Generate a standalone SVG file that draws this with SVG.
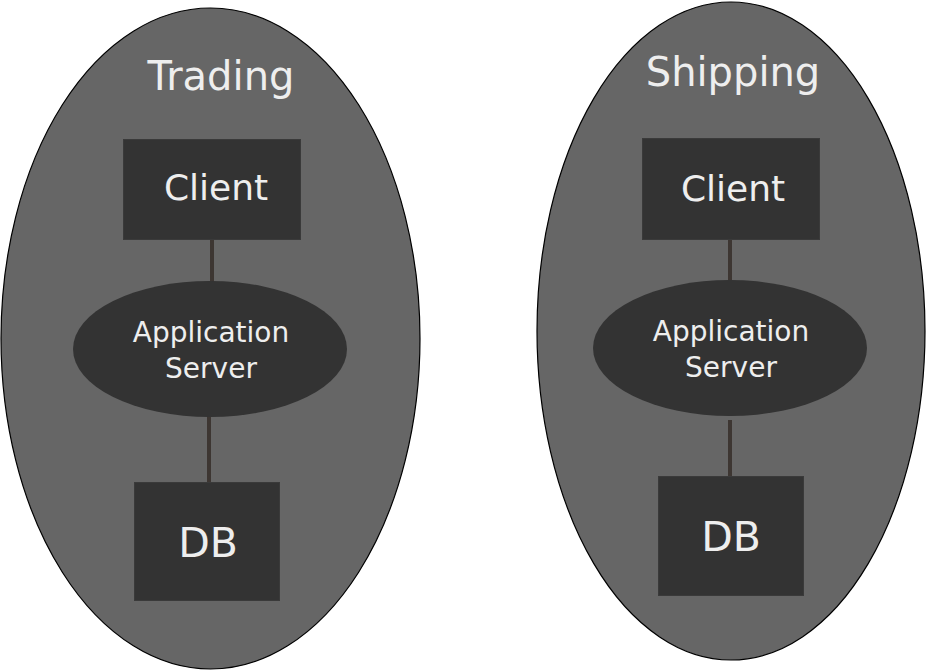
<svg xmlns="http://www.w3.org/2000/svg" width="926" height="672" viewBox="0 0 926 672">
<style>
.zone{fill:#666666;stroke:#000000;stroke-width:1.2}
.box{fill:#333333;stroke:#3a3a3a;stroke-width:1}
.srv{fill:#333333}
.conn{stroke:#3d3632;stroke-width:4;fill:none}
text{font-family:"DejaVu Sans","Liberation Sans",sans-serif;fill:#eeeeee;text-anchor:middle}
.t1{font-size:40px}
.t2{font-size:36px}
.t3{font-size:28px}
.t4{font-size:41px}
</style>
<rect width="926" height="672" fill="#ffffff"/>
<g id="trading">
<ellipse class="zone" cx="210.5" cy="338.5" rx="209.5" ry="330.5"/>
<text class="t1" x="221" y="90">Trading</text>
</g>
<g id="shipping">
<ellipse class="zone" cx="731" cy="331" rx="194" ry="329"/>
<text class="t1" x="733" y="86">Shipping</text>
</g>
<g id="connectors">
<line class="conn" x1="212" y1="240" x2="212" y2="283"/>
<line class="conn" x1="209" y1="416" x2="209" y2="482"/>
<line class="conn" x1="730" y1="240" x2="730" y2="282"/>
<line class="conn" x1="730" y1="420" x2="730" y2="490"/>
</g>
<g id="trading-client">
<rect class="box" x="123.5" y="139.5" width="177" height="100"/>
<text class="t2" x="216" y="200">Client</text>
</g>
<g id="trading-appserver">
<ellipse class="srv" cx="210" cy="349" rx="137" ry="68"/>
<text class="t3" x="211" y="342">Application</text>
<text class="t3" x="211" y="378">Server</text>
</g>
<g id="trading-db">
<rect class="box" x="134.5" y="482.5" width="145" height="118"/>
<text class="t4" x="208" y="557">DB</text>
</g>
<g id="shipping-client">
<rect class="box" x="642.5" y="138.5" width="177" height="101"/>
<text class="t2" x="733" y="201">Client</text>
</g>
<g id="shipping-appserver">
<ellipse class="srv" cx="730" cy="348" rx="137" ry="68"/>
<text class="t3" x="731" y="341">Application</text>
<text class="t3" x="731" y="377">Server</text>
</g>
<g id="shipping-db">
<rect class="box" x="658.5" y="476.5" width="145" height="119"/>
<text class="t4" x="731" y="551">DB</text>
</g>
</svg>
